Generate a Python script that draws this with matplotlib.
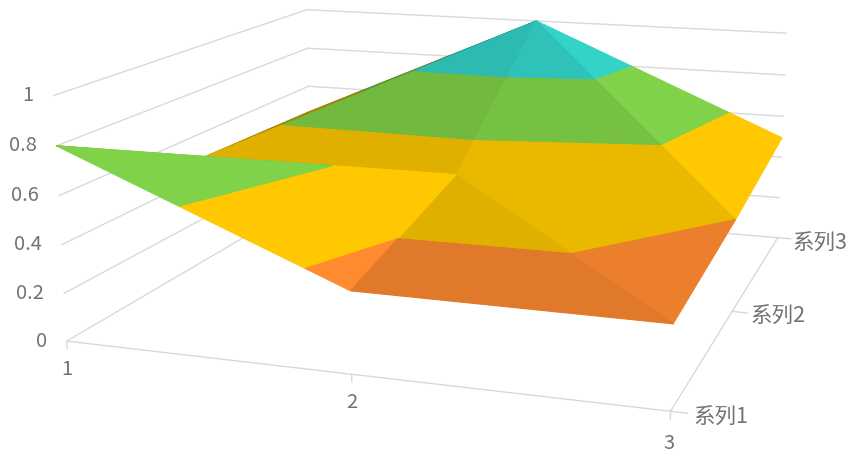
import numpy as np
import matplotlib
matplotlib.use("Agg")
import matplotlib.pyplot as plt
from mpl_toolkits.mplot3d import proj3d
from mpl_toolkits.mplot3d.art3d import Poly3DCollection

plt.rcParams['font.family'] = ['Noto Sans CJK SC', 'DejaVu Sans']

x_values = [1, 2, 3]
series_names = ["系列1", "系列2", "系列3"]
series_1 = [0.80, 0.33, 0.328]
series_2 = [0.485, 0.50, 0.40]
series_3 = [0.465, 1.00, 0.495]
z_ticks = [0, 0.2, 0.4, 0.6, 0.8, 1]
z_labels = ["0", "0.2", "0.4", "0.6", "0.8", "1"]

band_edges = [0, 0.2, 0.4, 0.6, 0.8, 1.0]
band_colors = ["#5b9bd5", "#ff8a30", "#ffc800", "#80d248", "#33d3c8"]

# each cell is cut in two along the fold seen in the chart, shade is per triangle
triangles = [
    ((0, 0), (1, 0), (1, 1), 1.00),
    ((0, 0), (1, 1), (0, 1), 0.88),
    ((1, 0), (2, 0), (1, 1), 0.88),
    ((2, 0), (2, 1), (1, 1), 0.92),
    ((0, 1), (1, 1), (1, 2), 0.88),
    ((0, 1), (1, 2), (0, 2), 0.65),
    ((1, 1), (2, 1), (1, 2), 0.92),
    ((2, 1), (2, 2), (1, 2), 1.00),
]


def clip_band(tri, lo, hi):
    # cut a polygon to the part between two heights
    poly = list(tri)
    for level, sign in ((lo, 1), (hi, -1)):
        out = []
        for i in range(len(poly)):
            a = poly[i]
            b = poly[(i + 1) % len(poly)]
            da = sign * (a[2] - level)
            db = sign * (b[2] - level)
            if da >= 0:
                out.append(a)
            if da * db < 0:
                t = da / (da - db)
                out.append(tuple(a[k] + t * (b[k] - a[k]) for k in range(3)))
        poly = out
        if not poly:
            break
    return poly


def shade(color, f):
    return tuple(c * f for c in matplotlib.colors.to_rgb(color))


W, H = 851, 461
size = 807.9
fig = plt.figure(figsize=(W / 100, H / 100), dpi=100)
ax = fig.add_axes([41.27 / W, -128.36 / H, size / W, size / H], projection='3d', computed_zorder=False)
ax.set_xlim(1, 3, view_margin=0)
ax.set_ylim(1, 3, view_margin=0)
ax.set_zlim(0, 1, view_margin=0)
ax.view_init(13.32, -71.38)
ax.set_proj_type('persp', focal_length=0.4127)
ax.set_box_aspect((1, 1.0099, 0.4074))
ax.set_axis_off()
ax.patch.set_alpha(0)

y_values = [1, 2, 3]
z_grid = np.array([series_1, series_2, series_3])
grid_color = "#d9d9d9"

# walls
for z in z_ticks:
    ax.plot([1, 1], [1, 3], [z, z], color=grid_color, lw=1, zorder=1)
    ax.plot([1, 3], [3, 3], [z, z], color=grid_color, lw=1, zorder=1)
ax.plot([1, 3], [1, 1], [0, 0], color=grid_color, lw=1, zorder=1)
ax.plot([3, 3], [1, 3], [0, 0], color=grid_color, lw=1, zorder=1)
for x in x_values:
    ax.plot([x, x], [1, 1], [0, -0.03], color=grid_color, lw=1, zorder=1)
for y in y_values:
    ax.plot([3, 3.05], [y, y], [0, 0], color=grid_color, lw=1, zorder=1)

# surface
polys = []
colors = []
for a, b, c, f in triangles:
    tri = [(x_values[i], y_values[j], z_grid[j, i]) for i, j in (a, b, c)]
    for k in range(len(band_colors)):
        part = clip_band(tri, band_edges[k], band_edges[k + 1])
        if len(part) >= 3:
            polys.append(part)
            colors.append(shade(band_colors[k], f))
surf = Poly3DCollection(polys, facecolors=colors, edgecolors=colors, linewidths=0.8, zsort='average', zorder=2)
ax.add_collection3d(surf)


def label(text, x, y, z, dx, dy, ha, fontsize=14.5):
    px, py, _ = proj3d.proj_transform(x, y, z, ax.get_proj())
    ax.annotate(text, (px, py), xytext=(dx, dy), textcoords='offset pixels', ha=ha, va='center',
                fontsize=fontsize, color="#737373", zorder=3, annotation_clip=False)


for z, t in zip(z_ticks, z_labels):
    label(t, 1, 1, z, -20, 0, 'right')
label("1", 1, 1, 0, 0, -28, 'center')
label("2", 2, 1, 0, 0, -28, 'center')
label("3", 3, 1, 0, -2, -32, 'center')
label(series_names[0], 3, 1, 0, 23, -6, 'left', 15.5)
label(series_names[1], 3, 2, 0, 18, -5, 'left', 15.5)
label(series_names[2], 3, 3, 0, 15, -6, 'left', 15.5)

fig.savefig("out.png", dpi=100)
